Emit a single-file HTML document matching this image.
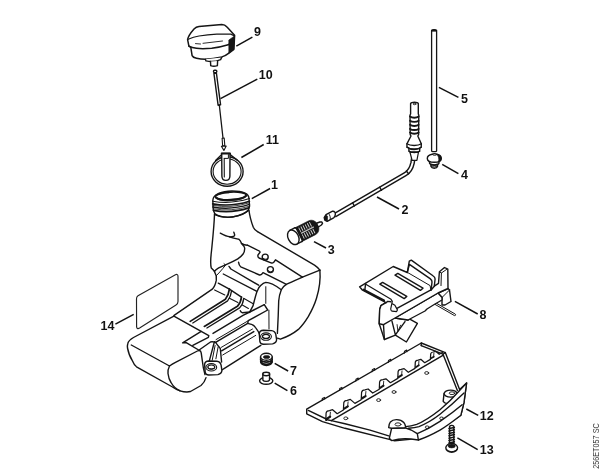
<!DOCTYPE html>
<html lang="en">
<head>
<meta charset="utf-8">
<title>Parts diagram 256ET057 SC</title>
<style>
html,body{margin:0;padding:0;background:#fff;}
body{width:600px;height:473px;overflow:hidden;}
svg{display:block;filter:grayscale(1) blur(0.35px);}
.l{fill:none;stroke:#151515;stroke-width:1.4;stroke-linecap:round;stroke-linejoin:round;}
.t{fill:none;stroke:#2a2a2a;stroke-width:0.9;stroke-linecap:round;stroke-linejoin:round;}
.w{fill:#fff;stroke:#151515;stroke-width:1.4;stroke-linecap:round;stroke-linejoin:round;}
.k{fill:#151515;stroke:#151515;stroke-width:0.6;stroke-linejoin:round;}
.ld{fill:none;stroke:#111;stroke-width:1.5;stroke-linecap:butt;}
.n{font-family:"Liberation Sans",Arial,sans-serif;font-weight:bold;font-size:12.5px;fill:#111;}
.c{font-family:"Liberation Sans",Arial,sans-serif;font-size:8.3px;fill:#3a3a3a;}
</style>
</head>
<body>
<svg width="600" height="473" viewBox="0 0 600 473">
<rect width="600" height="473" fill="#fff"/>

<!-- ===== 9 : filler cap ===== -->
<g id="p9">
<path class="w" d="M187.6,39.7 C188,36 190.5,33 194,29 C195.5,27.4 197,26.6 199,26.4 L221.9,24.5 C224,24.5 225.6,25.4 227,27.1 L234.6,35.3 L233.9,49.3 L228.9,53.1 C226.8,54.8 224.5,56 221.9,56.9 C217,58 211,59 205.4,59.2 C202.5,59.2 199.5,58.9 196.5,58.2 C194.5,57.8 192.8,57.2 192.1,55.6 L190.8,47.4 L188.9,46.1 Z" style="stroke-width:1.5"/>
<path class="l" d="M188.2,39.3 C192,37.6 195.5,36.6 199,36 C205,34.9 211,34.3 216.8,34.1 L230.8,34.1 L234.4,35.9" style="stroke-width:1.2"/>
<path class="l" d="M188.9,46.1 C191,47.2 193.5,47.9 196.5,48.3 C201,48.9 206,48.7 211.7,48.3 C217.5,47.7 223,46.4 228.2,44.8 L229,44.2" style="stroke-width:1.5"/>
<path class="l" d="M195.5,43.6 L200.5,44 M203,43.3 L222.5,41" style="stroke-width:.9"/>
<path class="k" d="M228.8,40 L234.6,35.9 L233.9,49.3 L228.8,53.2 Z"/>
<path class="w" d="M205.4,59.3 L206,60.9 C210,61.8 216.5,61.4 220.6,59.6 L221.7,57.4"/>
<path class="w" d="M210.5,61.5 L210.7,65.6 C212.5,66.3 215.5,66.2 217.4,65.6 L217.6,60.9"/>
</g>

<!-- ===== 10 : rod ===== -->
<g id="p10">
<rect class="w" x="213.5" y="70.2" width="3.3" height="2.4" rx="1"/>
<path class="w" d="M213.9,73.2 L216.4,73 L220.6,104.8 L218.1,105.2 Z"/>
<path class="l" d="M219.3,105 L223,138" style="stroke-width:1.3"/>
<path class="w" d="M222.1,138.2 L224.2,138 L224.8,145.6 L222.6,145.8 Z" style="stroke-width:1.1"/>
<path class="w" d="M221.4,146.2 L226.2,146 L223.9,150.4 Z" style="stroke-width:1.1"/>
</g>

<!-- ===== 11 : retainer ring ===== -->
<g id="p11">
<path class="l" d="M222,154.2 L215.6,160.4 M229.8,154.4 L237.4,160.2"/>
<ellipse class="l" cx="227.1" cy="171.5" rx="16" ry="14.7"/>
<ellipse class="l" cx="227.1" cy="171.5" rx="14" ry="12.7" style="stroke-width:1.1"/>
<path class="w" d="M221.7,153.4 L221.9,176.2 C222.2,181.8 229.6,181.8 229.9,176.2 L230,153.4 Z"/>
<path class="l" d="M224.2,158.6 L224.3,177" style="stroke-width:1.1"/>
<path class="l" d="M224.2,158.4 L228.4,158.4 L228.4,154.6" style="stroke-width:1"/>
<path class="l" d="M221.7,153.5 L230,153.5" style="stroke-width:2"/>
</g>

<!-- ===== 1 : tank ===== -->
<g id="p1">

<!-- filler neck threads -->
<path class="w" d="M212.8,200.6 C213,194.4 222,191 232,191 C242,191 249,193.6 249,198.8 L249.6,206 L248.5,209.6 C243,217.6 222,219.6 214.7,213.6 L213.3,210 Z"/>
<ellipse cx="230.8" cy="196" rx="15.4" ry="3.9" transform="rotate(-3 230.8 196)" fill="#fff" stroke="#151515" stroke-width="1.7"/>
<path d="M216,197.4 C220,201.6 242,200.6 246.2,195.6" fill="none" stroke="#151515" stroke-width="2.2"/>
<path d="M219,193.8 C222,192.6 226,192.2 229,192.4" fill="none" stroke="#151515" stroke-width="1.6"/>
<path class="l" d="M212.7,201.2 Q231,204.5 249.4,198.6" style="stroke-width:1.1"/>
<path class="l" d="M212.7,203.8 Q231,207.1 249.4,201.2" style="stroke-width:1.7"/>
<path class="l" d="M212.7,207.0 Q231,210.3 249.4,204.4" style="stroke-width:1.5"/>
<path class="l" d="M213.6,210.4 Q231,213.7 248.8,207.8" style="stroke-width:1.9"/>
<path class="l" d="M212.7,205.4 Q231,208.7 249.4,202.8" style="stroke-width:0.8"/>
<path class="l" d="M213.2,208.8 Q231,212.1 249.4,206.2" style="stroke-width:0.8"/>
<!-- neck body -->
<path class="l" d="M214.5,214 C214.2,225 212.6,240 211.6,250 C210.6,258 210.1,264 211.3,268.1 L214.3,271.1"/>
<path class="l" d="M214.6,214.6 Q231,221.8 248.6,210.6"/>
<path class="l" d="M249,210.2 C249.5,215 251,221 253.3,227.3 C254.5,230 256,231 257.5,231.6"/>
<!-- saddle -->
<path class="l" d="M220.3,233.2 C224,235.2 227,236.6 229.6,236.8 C232.5,237 234.8,236.3 234.7,235 C234.6,234 234,233 233.8,232.2"/>
<path class="l" d="M229.6,236.8 C233,238 237,238.8 238.9,239.3 C240.5,240.5 241,242 241.5,243.4 C243.5,244.8 245.5,245.2 247.4,245.2"/>
<path class="l" d="M241.5,243.4 C243.8,245.6 244.8,247 244.7,248.7 C244.6,251 244,252.8 243.1,254 C241.6,256 239.8,257.6 237.8,258.8 C234,261 230,262.9 226.1,264.6 L218.7,267.8 C216.6,268.9 215.2,270 214.5,271.5"/>
<path class="l" d="M224,263.7 L225.6,265.1 C223.6,267.6 221.6,270 219.8,272 L216.4,275.6" style="stroke-width:1"/>
<!-- tank back edge & right end -->
<path class="l" d="M257.5,231.6 L314.5,265.1 C317,266.8 319,268.5 319.9,270.2"/>
<path class="l" d="M319.9,270.2 C320.4,276 319.6,288 316.5,298.3 C314.5,305 311.5,311 308.4,316.4 C305,322 301.5,326.5 298.4,329.4 C294,333 288,336.5 280.4,339.2 L277.4,338.2"/>
<path class="l" d="M302.4,277.2 L319.9,270.2"/>
<!-- top inner edge -->
<path class="l" d="M247.4,245.2 L257.5,250.1 C259.5,251 260.3,251.6 260.1,252.2 L258,255 C257.6,256.5 258,257.4 259,258 L271,262.8 C272.5,263.4 273.4,263 274,262 L275.5,259.8 L302.4,277.2"/>
<circle class="l" cx="265.2" cy="257.1" r="3"/>
<path class="l" d="M263,258.2 C264,259.6 266.6,259.6 267.6,258.4" style="stroke-width:1"/>
<circle class="l" cx="270.4" cy="269.6" r="3"/>
<path class="l" d="M268.2,270.7 C269.2,272.1 271.8,272.1 272.8,270.9" style="stroke-width:1"/>
<!-- second tier -->
<path class="l" d="M238.5,262.2 C238.8,264.2 239.6,266 240.8,266.8 L259.5,275 C261,275.3 262,274.4 263,272.7 L284,283.2 L286.3,284.4"/>
<!-- step curve (left edge of right end block) -->
<path class="l" d="M302.4,277.2 C296,280 290,282.6 286.3,284.4 C283.5,286.2 282,288 281.3,289.7 C279.6,294 278.9,298 278.7,301 L278.2,316 L277.4,333.4"/>
<!-- pillar -->
<path class="l" d="M249.5,312.4 L253.1,305.7 C254,302 255.5,296 256.9,291.8 C258,288.5 259.5,286.4 260.7,285.4 C262.5,283.6 264,282.7 265.8,282.4 C270.5,282.4 276,285.8 281.3,289.7"/>
<path class="l" d="M265.8,286.7 L265.8,303.4" style="stroke-width:1"/>
<path class="l" d="M268.9,310.2 L269,329" style="stroke-width:1"/>
<!-- upper tier lines on top face, running to the left -->
<path class="l" d="M229,266.4 L230.9,269 L258.6,285.2"/>
<path class="l" d="M223.3,274 L256.4,291.2"/>
<path class="l" d="M214.6,289.9 L224.8,295 M229.4,298.2 L237.9,302.6 M242.3,305.1 L248.4,308.4" style="stroke-width:1.1"/>
<path class="l" d="M243.6,298.3 L253.2,303.8" style="stroke-width:1.1"/>
<path class="l" d="M214.3,271.1 C216,274 216.8,277 216.3,280.2 C215.6,284 214.5,287 212.3,289.2 L174.1,315.3"/>
<!-- channels / ridges -->
<path class="l" d="M218.3,283.2 L229.4,289.2"/><path class="l" d="M229.4,289.2 C229,293 227.5,296.5 225.4,299.2 L190.2,321.4" style="stroke-width:1.7"/>
<path class="l" d="M231.6,290.6 C231.2,294.4 229.7,298.2 227.6,300.9 L192.8,323" style="stroke-width:1.3"/>
<path class="l" d="M229.4,289.2 L241.5,297.2"/><path class="l" d="M241.5,297.2 C241,301 239.6,304 237.4,306.3 L204.3,326.4" style="stroke-width:1.7"/>
<path class="l" d="M243.7,298.6 C243.2,302.4 241.8,305.6 239.6,307.9 L206.9,328" style="stroke-width:1.3"/>
<!-- shelf -->
<path class="l" d="M264.3,304.7 L249.7,312 L242.5,312.8 C241.3,312.4 240.6,311.6 240.3,310.7"/>
<path class="l" d="M249.7,312 L243,315.3 L213,333.4"/>
<path class="l" d="M264.3,304.7 L267.7,310 L248.3,320.7 L247.7,323.3"/>
<path class="l" d="M260.3,336 C259,332.6 257.6,330 255.6,327.6 C254.4,326 253.4,325 252.3,324.7 L247.7,323.3 L215.6,342.4"/>
<path class="l" d="M248.3,320.7 L216,339.6" style="stroke-width:1"/>
<path class="l" d="M252.5,329 L221.4,347.3" style="stroke-width:1"/>
<path class="l" d="M253.8,331.6 L221.6,350.8" style="stroke-width:1.5"/>
<path class="l" d="M255.7,335.4 L222.7,355" style="stroke-width:1"/>
<path class="l" d="M260.8,345.4 L224,368.6 L221.8,370"/>
<!-- struts to left lug -->
<path class="l" d="M199.5,349.8 L210.5,342 L212.2,341.6 L215.6,342.4"/>
<path class="l" d="M215.6,342.4 L217.4,344.8 L220.3,348.5 L221.6,362"/>
<path class="l" d="M214.4,341.8 L209.2,361.4"/>
<path class="l" d="M215.1,345.5 L212.2,360.3" style="stroke-width:1"/>
<path class="l" d="M218.1,347 L215.9,358.8" style="stroke-width:1"/>
<!-- lugs -->
<path class="w" d="M259.3,334.0 L259.9,341.6 C260.2,343.4 261.4,344.2 263.4,344.3 L272.6,343.9 C275.0,343.4 276.6,341.8 276.6,339.6 L275.8,334.4 C275.2,332.0 274.0,330.8 271.6,330.6 L263.6,330.3 C260.8,330.4 259.3,331.6 259.3,334.0 Z"/>
<ellipse class="l" cx="266.0" cy="336.6" rx="5.4" ry="3.7" style="stroke-width:1.1"/>
<ellipse class="l" cx="266.0" cy="336.4" rx="3.5" ry="2.1" style="stroke-width:1.2"/>
<path class="l" d="M263.0,337.4 C264.0,338.8 268.0,338.8 269.0,337.4" style="stroke-width:1"/>
<path class="w" d="M204.6,364.7 L205.2,372.3 C205.5,374.1 206.7,374.9 208.7,375.0 L217.9,374.6 C220.3,374.1 221.9,372.5 221.9,370.3 L221.1,365.1 C220.5,362.7 219.3,361.5 216.9,361.3 L208.9,361.0 C206.1,361.1 204.6,362.3 204.6,364.7 Z"/>
<ellipse class="l" cx="211.3" cy="367.3" rx="5.4" ry="3.7" style="stroke-width:1.1"/>
<ellipse class="l" cx="211.3" cy="367.1" rx="3.5" ry="2.1" style="stroke-width:1.2"/>
<path class="l" d="M208.3,368.1 C209.3,369.5 213.3,369.5 214.3,368.1" style="stroke-width:1"/>
<!-- left block -->
<path class="l" d="M173.9,316.1 L201.2,331.4 L208.8,335.7 L208.4,337.4 L192.8,345.4"/>
<path class="l" d="M201.2,331.4 L182.6,342.8 L186.6,342.8 L199.5,350.5"/>
<path class="l" d="M173.9,316.1 L133.5,337.5 C130,339.5 128.3,341 127.8,343.5 C127.4,345 127.3,346.5 127.5,348 C128.5,353 130,357 132,360 C133.5,363.5 134.8,365.5 136.5,366.8 L172.5,387 C175,388.8 177.5,390.2 180,390.8 C184,392 187.5,392.3 190.5,391.5 L201,385.5 C203.5,383.4 205,381 206,377.6"/>
<path class="l" d="M131.3,345 L169.5,366 C171.5,364.6 173.5,363.4 175.5,362.3 L197.4,351 C198.4,350.5 199,350.4 199.5,350.5 C200.4,350.8 201,351.6 201.2,352.8 L203.3,367.5 L205,374.6"/>
<path class="l" d="M169.5,366 C168.2,368.5 167.8,371 168,373.5 C168.4,377 169.4,380 171,382.5 C173,386 176,389 180,390.8"/>
</g>


<!-- ===== 14 : label plate ===== -->
<g id="p14">
<path d="M138,295.7 L175.4,274.8 C177,274 178,274.6 178,276.4 L178,301.4 C178,303.2 177.4,304.2 176,305 L139.6,328.1 C137.8,329.1 136.7,328.6 136.6,326.6 L136.5,298.8 C136.5,297.3 136.9,296.4 138,295.7 Z" fill="none" stroke="#222" stroke-width="1.15"/>
</g>

<!-- ===== 3 : pickup body / filter ===== -->
<g id="p3" transform="translate(293.3,237.3) rotate(-27)">
<path class="k" d="M5,-7.7 L21,-7.7 C25,-7.7 27.6,-4 27.6,0 C27.6,4 25,7.7 21,7.7 L5,7.7 Z"/>
<path d="M9.2,-6.2 L9.2,-1.4 M9.2,1.4 L9.2,6.2 M11.6,-6.2 L11.6,-1.4 M11.6,1.4 L11.6,6.2 M14,-6.2 L14,-1.4 M14,1.4 L14,6.2 M16.4,-6.2 L16.4,-1.4 M16.4,1.4 L16.4,6.2 M18.8,-6.2 L18.8,-1.4 M18.8,1.4 L18.8,6.2 M21.2,-6.2 L21.2,-1.4 M21.2,1.4 L21.2,6.2 " stroke="#d8d8d8" stroke-width="0.9" fill="none"/>
<path d="M7.5,0 L23,0" stroke="#bbb" stroke-width="1.3" fill="none"/>
<path class="w" d="M0,-7.7 L6,-7.7 L6,7.7 L0,7.7 Z" style="stroke:none"/>
<path class="l" d="M0,-7.7 L6,-7.7 M0,7.7 L6,7.7"/>
<path class="l" d="M6,-7.7 C8.6,-6 8.6,6 6,7.7"/>
<ellipse class="w" cx="0" cy="0" rx="5.2" ry="7.7"/>
<path class="w" d="M27,-2 L30.6,-1.6 L32.4,-0.6 L32.4,0.8 L30.6,1.8 L27,2.2 Z"/>
</g>

<!-- ===== 2 : hose with fitting ===== -->
<g id="p2">
<!-- hose body -->
<path d="M334.5,215.4 L405.1,174.3 C409,172 411.5,168 412.6,162.7 C413.4,158 414,154 414.4,151" fill="none" stroke="#151515" stroke-width="4.8" stroke-linecap="butt"/>
<path d="M334.5,215.4 L405.1,174.3 C409,172 411.5,168 412.6,162.7 C413.4,158 414,154 414.4,151" fill="none" stroke="#fff" stroke-width="1.9" stroke-linecap="butt"/>
<path class="l" d="M352.6,202.9 L354.4,206 M379.7,187.2 L381.5,190.3 M406.3,171 L408.6,173.8" style="stroke-width:1.4"/>
<!-- connector at filter end -->
<path class="w" d="M324.2,217.6 L326,214.6 L332.6,211.2 C334.6,211 335.6,212.6 335.3,214.6 C335.2,216 334.6,217.2 333.6,217.8 L327.2,221.4 L324.8,220.2 Z"/>
<path class="l" d="M328.6,213.4 C330,215 330.6,217.4 330.2,219.6" style="stroke-width:1"/>
<path class="k" d="M324.4,217.8 L326,215 L327.6,216.2 L327.4,221 L325,220 Z"/>
<!-- top fitting -->
<path class="w" d="M409.9,152 L412.1,160.4 L416.9,160.4 L418.5,152 Z" style="stroke-width:1.2"/>
<path class="w" d="M410.4,152 L409,151.2 L408.8,148 L407,147.2 L406.9,143.8 L411,136 L410.2,134.6 L410,115 L410.6,114 L410.6,103.6 C411.3,101.8 417.6,101.8 418.3,103.6 L418.3,114 L418.8,115 L418.6,134.6 L417.8,136 L421.3,143.8 L421.2,147.2 L419.8,148 L419.6,151.2 L418.2,152 Z"/>
<path class="l" d="M406.9,143.8 C410,146 418.2,146 421.3,143.8 M407,147.2 C410,149.4 418.2,149.4 421.2,147.2 M408.8,148.2 C411,150 417.2,150 419.8,148.2 M409,151.2 C411.5,153 417.2,153 419.6,151.2"/>
<path class="l" d="M410,116.6 C412,118.1 416.6,118.1 418.6,116.6 M410,120.7 C412,122.2 416.6,122.2 418.6,120.7 M410,124.8 C412,126.3 416.6,126.3 418.6,124.8 M410,128.9 C412,130.4 416.6,130.4 418.6,128.9 M410,132.6 C412,134.1 416.6,134.1 418.6,132.6" style="stroke-width:1.9"/>
<ellipse class="l" cx="414.5" cy="104" rx="1.4" ry="0.7" style="stroke-width:.9"/>
</g>

<!-- ===== 5 : tube ===== -->
<g id="p5">
<path class="w" d="M431.6,150.8 L431.6,30.6 C431.6,29.4 436.6,29.4 436.6,30.6 L436.6,150.8 C436.6,152 431.6,152 431.6,150.8 Z" style="stroke-width:1.3"/>
<path class="k" d="M431.8,30.4 C432.6,29.2 435.6,29.2 436.4,30.4 L436.4,31.3 L431.8,31.3 Z"/>
</g>

<!-- ===== 4 : grommet ===== -->
<g id="p4">
<path class="w" d="M430.9,163.6 L431,166.6 C431.8,168.8 436.8,168.8 437.5,166.6 L437.6,163.6 Z"/>
<path class="l" d="M431,166 C432.4,167.4 436,167.4 437.5,166" style="stroke-width:1"/>
<path class="w" d="M429.5,160.6 L429.6,163.4 C430.6,165.4 438,165.4 438.9,163.4 L439,160.6 Z"/>
<path class="l" d="M431.6,164.6 C433,165.2 435.6,165.2 437,164.6" style="stroke-width:1.6"/>
<path class="w" d="M427.3,158.4 C427.3,156 430,154.6 432.2,154.2 C433,153.4 436.2,153.4 437,154.2 C439.5,154.8 441.3,156.4 441.3,158.4 C441.3,160.8 438,162.2 434.3,162.2 C430.4,162.2 427.3,160.8 427.3,158.4 Z"/>
<path class="k" d="M436.8,154.3 C439.5,154.9 441.3,156.4 441.3,158.4 C441.3,159.8 440.2,160.9 438.5,161.5 C439.2,159 438.6,156.2 436.8,154.3 Z"/>
<path class="l" d="M432.4,154.6 C433.4,155.6 435.8,155.6 436.8,154.6" style="stroke-width:1"/>
</g>


<!-- ===== 7 : threaded plug ===== -->
<g id="p7">
<path class="w" d="M260.5,357 L260.7,362.2 C261.8,366.6 271,366.6 272.1,362.2 L272.2,357 Z"/>
<path class="l" d="M260.6,359.6 C262.6,363 270.2,363 272.2,359.6 M260.7,361.8 C262.7,365.2 270.2,365.2 272.1,361.8" style="stroke-width:1.6"/>
<ellipse class="w" cx="266.4" cy="356.8" rx="5.8" ry="3.5"/>
<ellipse class="k" cx="266.6" cy="357" rx="3.3" ry="1.6"/>
</g>
<!-- ===== 6 : rivet ===== -->
<g id="p6">
<ellipse class="w" cx="266.2" cy="380.8" rx="6.6" ry="3.5"/>
<path class="w" d="M262.8,374 L262.9,380.2 C263.8,381.8 268.6,381.8 269.5,380.2 L269.6,374 Z"/>
<ellipse class="w" cx="266.2" cy="374" rx="3.4" ry="1.7"/>
</g>

<!-- ===== 8 : bracket ===== -->
<g id="p8">
<!-- lower body -->
<path class="w" d="M386,302.7 L380.9,305.7 L379.7,309.5 L379.2,323.8 L381.3,330 L384.4,339.5 L395.4,335.2 L406.4,342 L417.4,323.4 L409.8,319.1 L408,320 L395,318 L392,304 Z"/>
<path class="l" d="M383.5,324.7 L384.4,339.5 M391.9,320.9 L395.4,334.8 L405,321.6" />
<path class="l" d="M397.1,324.6 L397.9,331.4 L400.6,325.2" style="stroke-width:.9"/>
<!-- right box -->
<path class="w" d="M438,293 L448,288.5 L449.5,290 L451,301.5 L445,305 L442,305 L442,297.5 Z"/>
<path class="l" d="M442,297.5 L449.5,290" style="stroke-width:1"/>
<!-- pin -->
<path class="w" d="M435.5,302.7 L455.3,314.1 C456,314.8 455.4,316 454.5,315.6 L434.7,304.2 Z" style="stroke-width:1"/>
<!-- bar front face (Lb - Lc) -->
<path class="w" d="M395,318 L438,293 L442,297.5 L442,300 L435,304 L427,309 L425,311 L408,320 Z"/>
<!-- top plate incl. sloped flange down to Lb -->
<path class="w" d="M359.6,286.8 L393.2,266.5 L407.3,272.5 L409.3,261.1 L411.3,260.1 L432.6,275.5 C434.6,276.8 435.3,277.6 435.1,279 L434.3,286.2 L438.5,283.4 L439.4,271.8 L444.5,267.5 L447.8,269.2 L448,288.5 L438,293 L395,318 L383.5,324.7 L379.2,323.8 L379.7,309.5 L380.9,305.7 L386,302.7 L362.1,289.8 Z"/>
<!-- La : plate front-right edge -->
<path class="l" d="M397.4,308.2 L430.5,290.2"/>
<!-- hook -->
<path class="l" d="M365.8,284.2 L391,299.3 L392.3,301.4 L390.7,309 C390.9,310.4 391.4,311 392,311.2 L396.6,311.6 L397.4,309.9 L394.9,305.2 L392.8,304" style="stroke-width:1.2"/>
<path class="l" d="M386,302.7 L387.7,301.4 L390.9,301.8"/>
<!-- channel walls -->
<path class="l" d="M407.3,272.5 L409.4,264.4 L430.1,278.6 C431.6,279.8 432.2,280.6 432,282 L431.4,287.6 L430.9,290.4 L434.3,286.2"/>
<path class="l" d="M439.4,271.8 L441.4,273 L441,285.6 M441.4,273 L446.6,269.4" style="stroke-width:1"/>
<path class="l" d="M406.4,271.8 L430.1,285.6 L430.9,290.4" style="stroke-width:1"/>
<!-- slots -->
<path class="l" d="M379.8,284.2 L382.6,282.4 L406.8,296.4 L404.2,298.6 Z"/>
<path class="l" d="M395,275.2 L397.8,273.4 L423,288.2 L420.4,290.4 Z"/>
<!-- rolled left edge -->
<path class="l" d="M365.6,283.4 L364.8,290.6"/>
<path class="l" d="M363.6,289.6 L384,300.4" style="stroke-width:2.1"/>
</g>

<!-- ===== 12 : base plate ===== -->
<g id="p12">
<!-- plate outline -->
<path class="w" d="M306.7,409.2 L421.3,343 L445.3,352.6 L459.6,389.4 L466.6,383 L464,402.4 L460.9,415.2 C455,419.5 449,423.5 443.5,426.9 C436,431.2 428,434.6 420.2,437.3 C411,439.6 402,440.6 394.7,440.8 L389.3,439.4 L345,428.3 L322.5,421.7 L306.7,413.8 Z"/>
<!-- back edge thickness (right part only) -->
<path class="l" d="M421.2,345.6 L443,354.2 L457.4,390.4"/>
<path class="l" d="M421.3,343 L421.2,345.6 M445.3,352.6 L443,354.2"/>
<path class="l" d="M322.1,400.5 L322.3,398.6 L324.5,397.4 L324.7,399.0" style="stroke-width:1.1"/>
<path class="l" d="M339.5,390.5 L339.7,388.6 L341.9,387.4 L342.1,389.0" style="stroke-width:1.1"/>
<path class="l" d="M355.8,381.1 L356.0,379.2 L358.2,378.0 L358.4,379.6" style="stroke-width:1.1"/>
<path class="l" d="M372.1,371.7 L372.3,369.8 L374.5,368.6 L374.7,370.2" style="stroke-width:1.1"/>
<path class="l" d="M388.3,362.4 L388.5,360.5 L390.7,359.3 L390.9,360.9" style="stroke-width:1.1"/>
<path class="l" d="M404.3,353.2 L404.5,351.3 L406.7,350.1 L406.9,351.7" style="stroke-width:1.1"/>

<!-- rail -->
<path class="l" d="M331.3,420.6 L443.3,355.2"/>
<path class="l" d="M326.6,420.4 L325.8,420.3 L326.1,413.0 Q326.5,410.8 329.5,410.6 L332.6,409.7 L337.2,413.7 L343.4,410.0 L343.8,402.7 Q344.2,400.5 347.2,400.3 L350.3,399.4 L354.9,403.4 L361.2,399.7 L361.6,392.3 Q362.0,390.1 365.0,389.9 L368.1,389.0 L372.7,393.0 L379.3,389.2 L379.6,382.0 Q380.0,379.9 382.9,379.7 L385.9,378.8 L390.4,382.7 L397.8,378.4 L398.1,371.6 Q398.4,369.6 401.2,369.4 L404.1,368.6 L408.3,372.3 L415.0,368.4 L415.3,362.1 Q415.6,360.2 418.2,360.1 L420.8,359.3 L424.7,362.7 L430.4,359.4 L430.7,353.8 Q431.0,352.1 433.3,352.0 L435.7,351.3 L439.2,354.3 L442.7,352.3" style="stroke-width:1.25"/>
<path class="l" d="M326.6,418.9 L330.1,416.7" style="stroke-width:2.20"/>
<path class="l" d="M329.9,417.1 L330.4,412.2" style="stroke-width:.9"/>
<path class="l" d="M344.3,408.6 L347.8,406.4" style="stroke-width:2.20"/>
<path class="l" d="M347.6,406.8 L348.1,401.9" style="stroke-width:.9"/>
<path class="l" d="M362.1,398.3 L365.6,396.1" style="stroke-width:2.20"/>
<path class="l" d="M365.4,396.5 L365.9,391.5" style="stroke-width:.9"/>
<path class="l" d="M380.1,387.8 L383.5,385.7" style="stroke-width:2.13"/>
<path class="l" d="M383.3,386.1 L383.7,381.3" style="stroke-width:.9"/>
<path class="l" d="M398.6,377.1 L401.8,375.1" style="stroke-width:2.02"/>
<path class="l" d="M401.6,375.5 L402.0,370.9" style="stroke-width:.9"/>
<path class="l" d="M415.8,367.2 L418.8,365.3" style="stroke-width:1.87"/>
<path class="l" d="M418.6,365.7 L418.9,361.4" style="stroke-width:.9"/>
<path class="l" d="M431.1,358.3 L433.8,356.7" style="stroke-width:1.67"/>
<path class="l" d="M433.6,357.0 L433.9,353.2" style="stroke-width:.9"/>
<path class="l" d="M308.3,410.4 L328.3,420 L331.3,420.6"/>
<!-- top surface front edge -->
<path class="l" d="M331.3,420.6 L345,423.8 L370,430.1 L388.7,435.9"/>
<ellipse class="l" cx="345.8" cy="418.3" rx="2" ry="1.4" style="stroke-width:.9"/>
<ellipse class="l" cx="378.6" cy="400.1" rx="2" ry="1.4" style="stroke-width:.9"/>
<ellipse class="l" cx="394" cy="392" rx="2" ry="1.4" style="stroke-width:.9"/>
<ellipse class="l" cx="426.7" cy="373" rx="2" ry="1.4" style="stroke-width:.9"/>

<!-- right boss -->
<path class="w" d="M444,393.8 L443.2,401.4 C444.6,403.4 448,404 450.6,403 L457.2,393.8 Z"/>
<ellipse class="w" cx="450.6" cy="393.6" rx="6.5" ry="3.5"/>
<ellipse class="l" cx="452" cy="393.2" rx="2.8" ry="1.4" style="stroke-width:.9"/>
<!-- front lip -->
<path class="w" d="M391.6,428.3 L389.3,438.3 L391.6,440.6 C396,439.4 401,438.8 405,438.8 C410,438.9 414,439.4 418.4,440 C426,437.4 433,434 440,430.1 C447,426 454,420.5 460.9,415.2 L464,402.4 L466.6,383 L459.8,390.3 C454,397 447,404 440,409.7 C432,416 424,421.5 416.7,424.3 C413,425.6 409,426.4 405.6,426.6 Z"/>
<path class="l" d="M408.5,428.3 C412,428 415.5,427.6 419,426.6 C426.5,423.6 433.5,419.4 440,414.3 C448,408 456.5,400.4 464,393.1"/>
<path class="l" d="M391.6,428.3 L405,427.8 C409.5,429 413.6,431 417.3,433.6 L418.4,440"/>
<path class="l" d="M417.3,433.6 C425,430.4 432.6,426.2 440,421.3 C448,416 455.6,410.4 462.1,404.8"/>
<ellipse class="l" cx="441.6" cy="418.3" rx="1.9" ry="1.3" style="stroke-width:.9"/>
<ellipse class="l" cx="427.2" cy="427.2" rx="1.9" ry="1.3" style="stroke-width:.9"/>
<!-- left boss -->
<path class="w" d="M388.7,427.6 C389,424.4 389.6,422.8 390.4,421.9 C392,420.2 394.5,419.5 396.8,419.6 C399.6,419.7 402.2,420.8 403.8,422.5 C404.8,423.6 405.3,425 405.6,426.6 L405,427.8 L391.6,428.3 Z"/>
<ellipse class="l" cx="398" cy="424.4" rx="3" ry="1.6" style="stroke-width:.9"/>
</g>

<!-- ===== 13 : screw ===== -->
<g id="p13">
<path class="w" d="M449.6,426.4 C450.4,425 453,425 453.8,426.4 L453.8,443.4 L449.6,443.4 Z"/>
<path class="l" d="M449,428.6 L454.4,427.4 M449,431 L454.4,429.8 M449,433.4 L454.4,432.2 M449,435.8 L454.4,434.6 M449,438.2 L454.4,437 M449,440.6 L454.4,439.4 M449,443 L454.4,441.8" style="stroke-width:1.5"/>
<ellipse class="w" cx="451.7" cy="447.8" rx="5.9" ry="4.4"/>
<ellipse class="k" cx="451.7" cy="446" rx="3.6" ry="1.9"/>
<path class="l" d="M446.4,449.4 C448.4,452.4 455,452.4 457,449.4" style="stroke-width:1"/>
</g>

<!-- ===== leaders ===== -->
<g id="leaders">
<path class="ld" d="M236.3,46.2 L252.4,37.1"/>
<path class="ld" d="M220.5,98.6 L257.3,79.1"/>
<path class="ld" d="M241.4,157.5 L263.7,144.5"/>
<path class="ld" d="M251.8,198.6 L270.1,188.5"/>
<path class="ld" d="M377,197 L399,209"/>
<path class="ld" d="M314,241.6 L326,248"/>
<path class="ld" d="M442.2,164.4 L458.4,173.6"/>
<path class="ld" d="M438.9,87.3 L458.4,97.4"/>
<path class="ld" d="M274.7,383.1 L287.4,390.7"/>
<path class="ld" d="M274.7,363.4 L288.1,371"/>
<path class="ld" d="M454.9,301.3 L477.7,314"/>
<path class="ld" d="M466.3,409 L478.2,415.4"/>
<path class="ld" d="M457.4,437.9 L477.7,449.7"/>
<path class="ld" d="M115.4,324.2 L133.7,314.4"/>
</g>

<!-- ===== labels ===== -->
<g id="labels">
<text class="n" x="254" y="36.3">9</text>
<text class="n" x="258.7" y="79.3">10</text>
<text class="n" x="265.7" y="143.7">11</text>
<text class="n" x="271.1" y="188.5">1</text>
<text class="n" x="401.5" y="213.6">2</text>
<text class="n" x="327.8" y="253.6">3</text>
<text class="n" x="461" y="178.6">4</text>
<text class="n" x="461" y="103">5</text>
<text class="n" x="290" y="394.7">6</text>
<text class="n" x="290" y="375.4">7</text>
<text class="n" x="479.5" y="318.7">8</text>
<text class="n" x="479.8" y="419.8">12</text>
<text class="n" x="479.8" y="454.4">13</text>
<text class="n" x="100.6" y="330.1">14</text>
</g>
<text class="c" transform="translate(598.6,468.8) rotate(-90) scale(0.875,1)">256ET057 SC</text>



</svg>
</body>
</html>
